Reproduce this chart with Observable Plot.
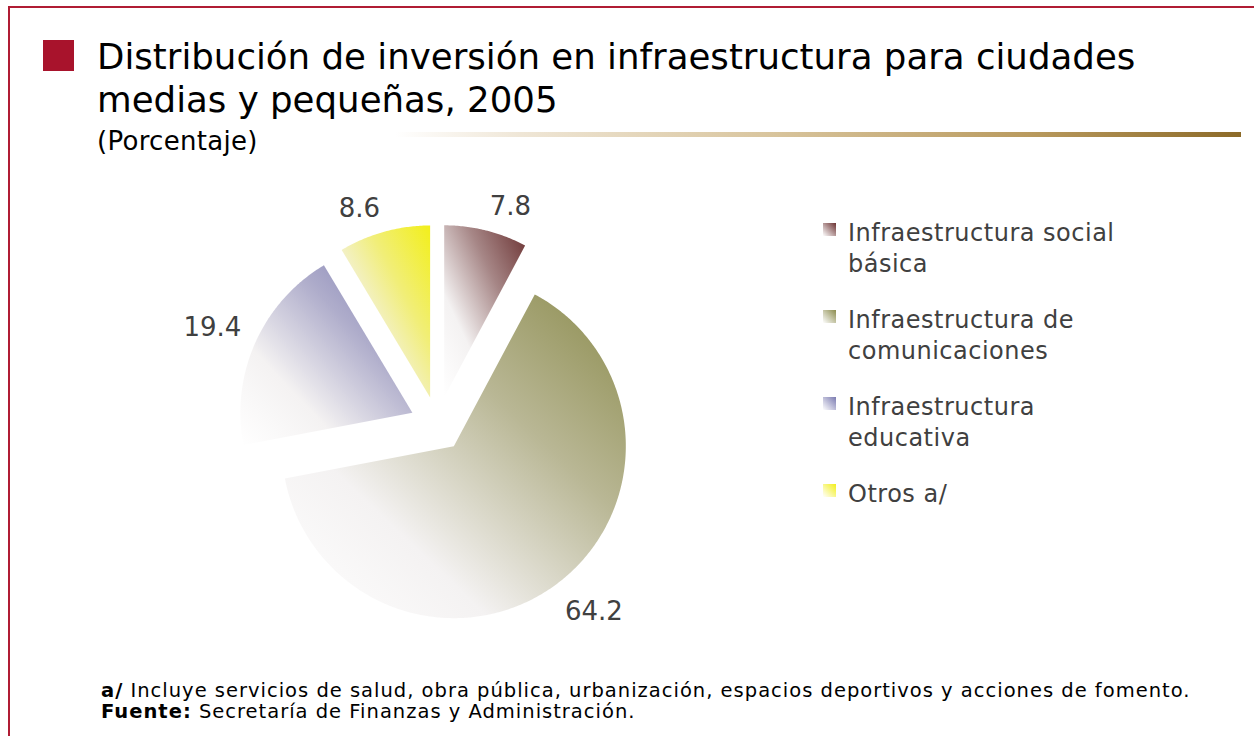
<!DOCTYPE html>
<html><head><meta charset="utf-8">
<script src="https://cdn.jsdelivr.net/npm/d3@7"></script>
<script src="https://cdn.jsdelivr.net/npm/@observablehq/plot@0.6"></script>
<style>
html,body{margin:0;padding:0;background:#fff;}
#page{position:relative;width:1254px;height:736px;overflow:hidden;font-family:"DejaVu Sans",Verdana,sans-serif;background:#fff;}
#frame{position:absolute;left:8px;top:6px;width:1300px;height:800px;border-left:2.5px solid #b01c34;border-top:2.5px solid #b01c34;box-sizing:border-box;}
#bullet{position:absolute;left:43px;top:40px;width:31px;height:31px;background:#a8132c;}
#title{position:absolute;left:97px;top:35px;font-size:35.6px;line-height:43px;color:#000;white-space:nowrap;}
#subtitle{position:absolute;left:97px;top:126px;font-size:26px;line-height:30px;color:#000;white-space:nowrap;letter-spacing:0.3px;}
#rule{position:absolute;left:395px;top:132px;width:846px;height:5px;background:linear-gradient(to right,#ffffff,#efe6d6 15%,#d8c49c 45%,#b99a5e 75%,#8c6a28);}
#chart{position:absolute;left:180px;top:170px;}
#legend{position:absolute;left:823px;top:218px;font-size:24px;line-height:31px;color:#404040;letter-spacing:0.5px;}
.item{position:relative;padding-left:25px;height:87px;}
.sw{position:absolute;left:0;top:5px;width:13px;height:13px;}
#foot{position:absolute;left:101px;top:680px;font-size:19.5px;line-height:21px;color:#000;white-space:nowrap;letter-spacing:1px;}
</style></head>
<body><div id="page">
<div id="frame"></div>
<div id="bullet"></div>
<div id="title"></div>
<div id="subtitle"></div>
<div id="rule"></div>
<div id="chart"></div>
<div id="legend"></div>
<div id="foot"></div>
</div>
<script>
// ---- data ----
const titleLines = ["Distribución de inversión en infraestructura para ciudades", "medias y pequeñas, 2005"];
const subtitle = "(Porcentaje)";
const categories = ["Infraestructura social básica", "Infraestructura de comunicaciones", "Infraestructura educativa", "Otros a/"];
const legendLines = [["Infraestructura social", "básica"], ["Infraestructura de", "comunicaciones"], ["Infraestructura", "educativa"], ["Otros a/"]];
const values = [7.8, 64.2, 19.4, 8.6];
const valueLabels = ["7.8", "64.2", "19.4", "8.6"];
const colors = ["#6b3232", "#8c8c4e", "#7a7ab0", "#f2ef1a"];
const footLines = [["a/", " Incluye servicios de salud, obra pública, urbanización, espacios deportivos y acciones de fomento."], ["Fuente:", " Secretaría de Finanzas y Administración."]];

// ---- text blocks ----
document.getElementById("title").innerHTML = titleLines.join("<br>");
document.getElementById("subtitle").textContent = subtitle;
document.getElementById("foot").innerHTML = footLines.map(([b, t]) => `<b>${b}</b>${t}`).join("<br>");
document.getElementById("legend").innerHTML = legendLines.map((lines, i) =>
  `<div class="item"><div class="sw" style="background:linear-gradient(to top right,#ffffff,${colors[i]})"></div>${lines.join("<br>")}</div>`).join("");

// ---- pie geometry (unit radius) ----
const W = 520, H = 470, cx = 257, cy = 253.5, PX = 172; // layout
const EXPLODE = 0.16, LABEL_GAP = 0.09;
const arcs = d3.pie().sort(null).value(d => d)(values);
const slices = arcs.map((a, i) => {
  const mid = (a.startAngle + a.endAngle) / 2;
  const ox = EXPLODE * Math.sin(mid), oy = EXPLODE * Math.cos(mid);
  const pts = [{x: ox, y: oy}];
  const n = Math.max(4, Math.ceil((a.endAngle - a.startAngle) / 0.01));
  for (let k = 0; k <= n; k++) {
    const t = a.startAngle + (a.endAngle - a.startAngle) * k / n;
    pts.push({x: ox + Math.sin(t), y: oy + Math.cos(t)});
  }
  return pts;
});
const labels = arcs.map((a, i) => {
  const mid = (a.startAngle + a.endAngle) / 2;
  const rr = 1 + EXPLODE + LABEL_GAP;
  return {x: rr * Math.sin(mid), y: rr * Math.cos(mid), text: valueLabels[i],
          ta: Math.sin(mid) >= 0 ? "start" : "end", la: Math.cos(mid) >= 0 ? "bottom" : "top"};
});
const groups = d3.groups(labels, d => d.ta + "|" + d.la);

const plot = Plot.plot({
  width: W, height: H, margin: 0,
  x: {domain: [-cx / PX, (W - cx) / PX], axis: null},
  y: {domain: [-(H - cy) / PX, cy / PX], axis: null},
  style: {background: "transparent", overflow: "visible"},
  marks: [
    ...slices.map((pts, i) => Plot.line(pts, {x: "x", y: "y", curve: "linear-closed", fill: `url(#slice${i})`, stroke: "none"})),
    ...groups.map(([key, g]) => Plot.text(g, {x: "x", y: "y", text: "text",
      textAnchor: g[0].ta, lineAnchor: g[0].la, fontSize: 26, fontFamily: "DejaVu Sans", fill: "#404040",
      dy: g[0].la === "top" ? 4 : 0}))
  ]
});
const NS = "http://www.w3.org/2000/svg";
const defs = document.createElementNS(NS, "defs");
colors.forEach((c, i) => {
  const lg = document.createElementNS(NS, "linearGradient");
  lg.setAttribute("id", `slice${i}`);
  lg.setAttribute("x1", "0"); lg.setAttribute("y1", "1"); lg.setAttribute("x2", "1"); lg.setAttribute("y2", "0");
  [[0, "#ffffff"], [0.3, "#f4f2f2"], [0.65, "#d0cccc"], [1, c]].forEach(([o, col], k) => {
    const s = document.createElementNS(NS, "stop");
    s.setAttribute("offset", o);
    s.setAttribute("stop-color", k === 2 ? d3.interpolateRgb("#efecec", c)(0.55) : col);
    lg.appendChild(s);
  });
  defs.appendChild(lg);
});
plot.insertBefore(defs, plot.firstChild);
document.getElementById("chart").appendChild(plot);
</script>
</body></html>
